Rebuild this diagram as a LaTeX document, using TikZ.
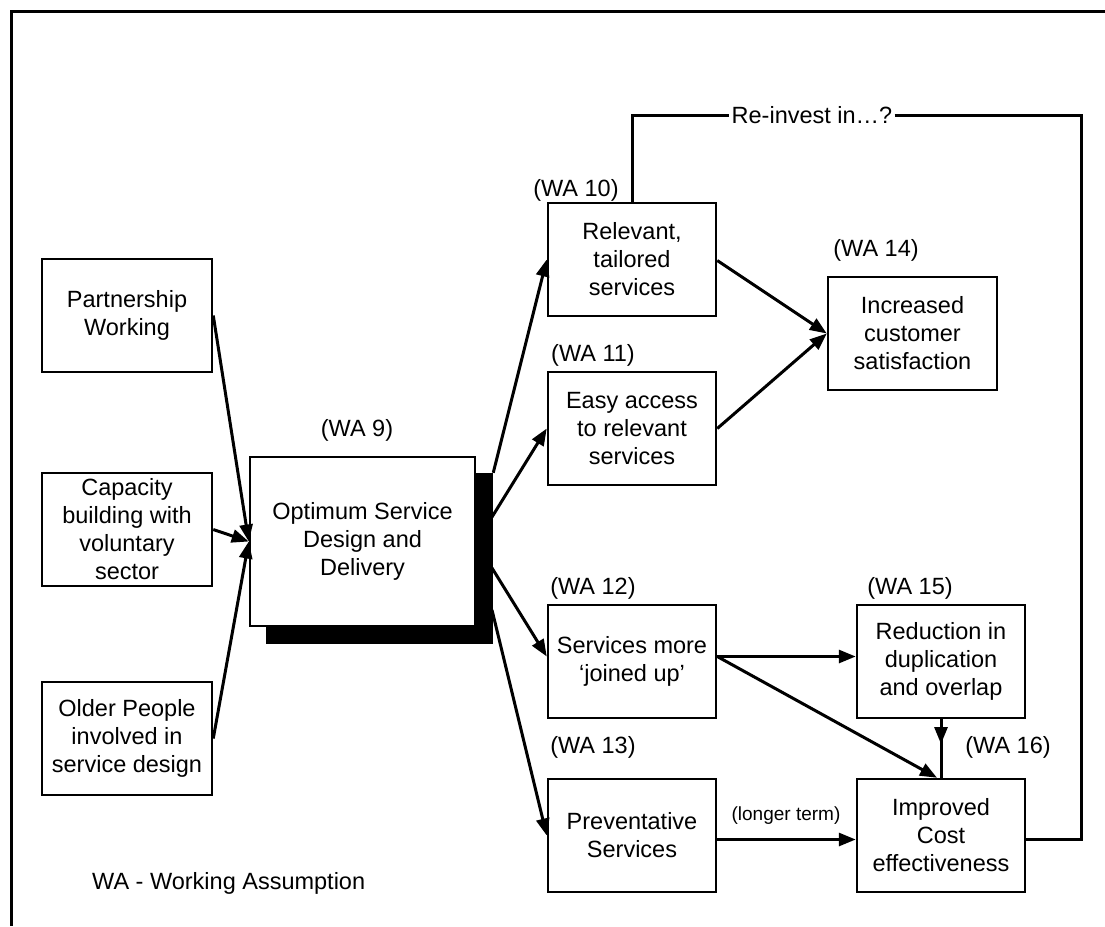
\documentclass[tikz,border=0pt]{standalone}
\usepackage{fontspec}
\setmainfont{Liberation Sans}
\usetikzlibrary{arrows.meta,calc}
\begin{document}
\begin{tikzpicture}[x=1pt,y=-1pt,
  box/.style={draw,line width=2.5pt,fill=white,minimum width=170pt,minimum height=113pt,inner sep=0pt,align=center,font=\fontsize{23.5}{28}\selectfont},
  lbl/.style={inner sep=0pt,font=\fontsize{23.5}{28}\selectfont},
  conn/.style={line width=3pt},
  arr/.style={line width=3pt,-{Triangle[length=17pt,width=13pt]}}]
\useasboundingbox (0,0) rectangle (1105,926);
% frame
\draw[line width=3pt] (1105,11) -- (11,11) -- (11,926);
% left boxes
\node[box] (part) at (127,315.5) {Partnership\\Working};
\node[box] (cap) at (127,529.5) {Capacity\\building with\\voluntary\\sector};
\node[box] (old) at (127,738.5) {Older People\\involved in\\service design};
% central
\node[box,fill=black,minimum width=225pt,minimum height=169pt] (sh) at (379.5,558.5) {};
\node[box,minimum width=225pt,minimum height=169pt] (opt) at (362.5,541.5) {Optimum Service\\Design and\\Delivery};
\node[lbl] (wa9) at (357,430) {(WA 9)};
% middle column
\node[box,minimum width=168pt] (rel) at (632,259.5) {Relevant,\\tailored\\services};
\node[box,minimum width=168pt] (easy) at (632,428.5) {Easy access\\to relevant\\services};
\node[box,minimum width=168pt] (serv) at (632,661.5) {Services more\\‘joined up’};
\node[box,minimum width=168pt] (prev) at (632,835.5) {Preventative\\Services};
\node[lbl] (wa10) at (576,190) {(WA 10)};
\node[lbl] (wa11) at (593,355) {(WA 11)};
\node[lbl] (wa12) at (593,588) {(WA 12)};
\node[lbl] (wa13) at (593,747) {(WA 13)};
% right column
\node[box,minimum width=169pt] (inc) at (912.5,333.5) {Increased\\customer\\satisfaction};
\node[box,minimum width=168pt] (red) at (941,661.5) {Reduction in\\duplication\\and overlap};
\node[box,minimum width=168pt] (imp) at (941,835.5) {Improved\\Cost\\effectiveness};
\node[lbl] (wa14) at (876,250) {(WA 14)};
\node[lbl] (wa15) at (910,588) {(WA 15)};
\node[lbl] (wa16) at (1008,747) {(WA 16)};
\node[lbl,font=\fontsize{19}{22}\selectfont] (lt) at (786,816) {(longer term)};
\node[lbl,fill=white,inner xsep=2pt] (reinv) at (812,115) {Re-invest in…?};
\node[lbl,anchor=west] (legend) at (92,883) {WA - Working Assumption};
% coordinates on shadow
\coordinate (s1) at (sh.north east);
\coordinate (s2) at (492,517);
\coordinate (s3) at (492,568);
\coordinate (s4) at (492,610);
\coordinate (mid) at (941,744);
\coordinate (corner) at (1081,115);
% arrows into optimum
\draw[arr] (part.east) -- (opt.west);
\draw[arr] (cap.east) -- (opt.west);
\draw[arr] (old.east) -- (opt.west);
% arrows out of optimum
\draw[arr] (s1) -- (rel.west);
\draw[arr] (s2) -- (easy.west);
\draw[arr] (s3) -- ($(serv.west)+(0,-5)$);
\draw[arr] (s4) -- (prev.west);
% to increased
\draw[arr] ($(rel.east)+(0,1)$) -- (inc.west);
\draw[arr] (easy.east) -- (inc.west);
% services joined up
\draw[arr] ($(serv.east)+(0,-5)$) -- ($(red.west)+(0,-5)$);
\draw[arr] ($(serv.east)+(0,-5)$) -- ($(imp.north)+(-4,0)$);
\draw[conn] (red.south) -- (imp.north);
\draw[arr] (red.south) -- (mid);
\draw[arr] ($(prev.east)+(0,4)$) -- ($(imp.west)+(0,4)$);
% re-invest loop
\draw[conn] (rel.north) |- (reinv.west);
\draw[conn] (reinv.east) -- (corner) |- ($(imp.east)+(0,4)$);
\end{tikzpicture}
\end{document}
